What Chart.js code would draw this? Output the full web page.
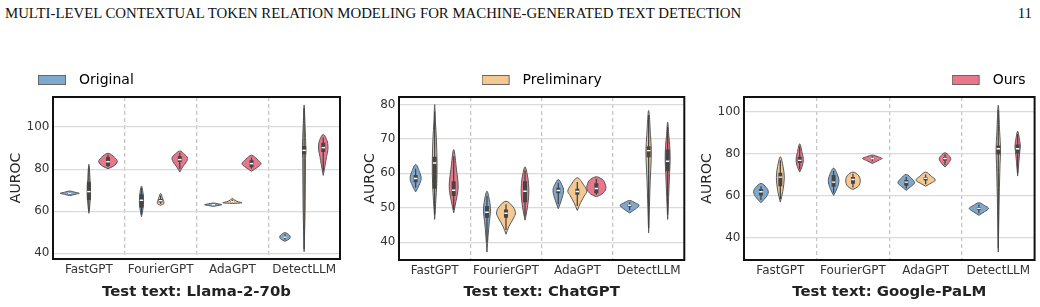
<!DOCTYPE html>
<html>
<head>
<meta charset="utf-8">
<script src="https://cdn.jsdelivr.net/npm/chart.js"></script>
<style>
  html, body { margin: 0; padding: 0; background: #fff; }
  body { width: 1040px; height: 307px; position: relative; overflow: hidden; }
  .header { position: absolute; top: 5px; left: 5px; font: 14.8px/16px 'Liberation Serif', serif; color: #111; white-space: nowrap; }
  .page { position: absolute; top: 5px; right: 8px; font: 14.8px/16px 'Liberation Serif', serif; color: #111; }
  canvas { position: absolute; top: 60px; }
</style>
</head>
<body>
<div class="header">MULTI-LEVEL CONTEXTUAL TOKEN RELATION MODELING FOR MACHINE-GENERATED TEXT DETECTION</div>
<div class="page">11</div>
<canvas id="c1" width="347" height="247" style="left:0px"></canvas>
<canvas id="c2" width="347" height="247" style="left:347px"></canvas>
<canvas id="c3" width="346" height="247" style="left:694px"></canvas>
<script>
Chart.defaults.font.family = "'DejaVu Sans', sans-serif";
Chart.defaults.color = '#333';

const categories = ['FastGPT', 'FourierGPT', 'AdaGPT', 'DetectLLM'];
const methods = ['Original', 'Preliminary', 'Ours'];
const testSets = ['Llama-2-70b', 'ChatGPT', 'Google-PaLM'];
const llamaTicks = [40, 60, 80, 100];
const chatTicks = [40, 50, 60, 70, 80];
const palmTicks = [40, 60, 80, 100];

// violin: shape = [AUROC, relative half width] bottom -> top, box = [lo, q1, median, q3, hi]
const llamaOriginal = [
  { shape: [[67.4, 0], [68.0, 0.55], [68.5, 1.0], [69.0, 0.55], [69.6, 0]], box: [67.9, 68.3, 68.5, 68.7, 69.1] },
  { shape: [[57.4, 0], [61, 0.15], [65, 0.22], [69, 0.15], [72, 0]], box: [58.5, 61.7, 65.2, 68, 71] },
  { shape: [[62.3, 0], [62.7, 0.5], [63.1, 0.9], [63.5, 0.5], [63.9, 0]], box: [62.7, 62.9, 63.1, 63.3, 63.5] },
  { shape: [[45.7, 0], [46.8, 0.45], [47.7, 0.55], [48.7, 0.45], [49.8, 0]], box: [46.5, 47.3, 47.7, 48.1, 49] },
];
const llamaPreliminary = [
  { shape: [[59, 0], [63, 0.1], [69, 0.17], [75, 0.12], [82.3, 0]], box: [60, 65.3, 69.3, 73.9, 81] },
  { shape: [[62.8, 0], [63.6, 0.34], [65, 0.3], [66.5, 0.18], [68.5, 0]], box: [63.5, 64.2, 65.0, 65.8, 67.5] },
  { shape: [[63.7, 0], [64.0, 1.0], [64.5, 0.6], [65.2, 0.25], [66.1, 0]], box: [64, 64.3, 64.5, 64.8, 65.5] },
  { shape: [[40.8, 0], [60, 0.1], [85, 0.15], [90, 0.18], [100, 0.1], [110.5, 0]], box: [42, 87, 88.9, 91, 109] },
];
const llamaOurs = [
  { shape: [[80.2, 0], [81.5, 0.6], [83.5, 0.97], [85.5, 0.7], [87.5, 0]], box: [81, 81.5, 83.5, 85.7, 86.8] },
  { shape: [[78.6, 0], [81, 0.3], [83.5, 0.7], [85.4, 0.81], [87, 0.5], [88.6, 0]], box: [80, 83.4, 84.5, 86.2, 87.8] },
  { shape: [[79.0, 0], [80.8, 0.6], [82.6, 1.0], [84.6, 0.6], [86.6, 0]], box: [80.2, 80.9, 82.6, 84.2, 85.5] },
  { shape: [[77.0, 0], [82, 0.2], [86, 0.35], [89, 0.48], [91, 0.49], [93.5, 0.4], [96.5, 0]], box: [79, 88.1, 90.2, 92.5, 95] },
];

const chatOriginal = [
  { shape: [[54.6, 0], [56.5, 0.35], [58.5, 0.58], [60.5, 0.4], [62.6, 0]], box: [55.8, 57.4, 58.5, 59.5, 61.3] },
  { shape: [[37.1, 0], [42, 0.12], [46, 0.25], [49, 0.37], [51.5, 0.3], [54.8, 0]], box: [40, 47.1, 48.7, 50.5, 53.5] },
  { shape: [[49.7, 0], [52, 0.3], [55, 0.56], [56.8, 0.35], [58.2, 0]], box: [51, 54.2, 55, 55.8, 57.3] },
  { shape: [[48.5, 0], [49.6, 0.6], [50.7, 1.0], [51.4, 0.6], [52.1, 0]], box: [49.3, 50.3, 50.7, 51, 51.6] },
];
const chatPreliminary = [
  { shape: [[46.6, 0], [52, 0.12], [57, 0.22], [63, 0.25], [70, 0.18], [75, 0.08], [80, 0]], box: [48, 55.5, 63.0, 64.8, 78] },
  { shape: [[42.3, 0], [44.5, 0.3], [47, 0.8], [48.5, 1.0], [50.2, 0.75], [51.9, 0]], box: [43.5, 47.1, 48.4, 49.5, 51] },
  { shape: [[49.2, 0], [51.5, 0.35], [53.5, 0.75], [54.8, 1.0], [56.5, 0.7], [58.7, 0]], box: [50.5, 53.8, 54.7, 55.5, 57.5] },
  { shape: [[42.7, 0], [50, 0.08], [58, 0.17], [64, 0.27], [67, 0.28], [71, 0.2], [78.3, 0]], box: [44, 64.7, 66.6, 67.9, 77] },
];
const chatOurs = [
  { shape: [[48.5, 0], [52, 0.25], [55, 0.45], [57.5, 0.45], [61, 0.3], [66.9, 0]], box: [49.5, 53.4, 55.1, 57.7, 65] },
  { shape: [[46.4, 0], [50, 0.25], [54, 0.4], [57, 0.37], [59.5, 0.25], [61.9, 0]], box: [47.5, 51.6, 54.8, 57.7, 60.8] },
  { shape: [[53.2, 0], [54, 0.6], [55.5, 1.0], [57.5, 0.85], [58.3, 0.6], [59, 0]], box: [53.8, 54.2, 55.6, 57.1, 58.4] },
  { shape: [[46.6, 0], [53, 0.1], [60, 0.2], [64, 0.26], [68, 0.22], [71, 0.12], [74.9, 0]], box: [48, 60.6, 63.5, 66.9, 73.5] },
];

const palmOriginal = [
  { shape: [[56.7, 0], [59.5, 0.55], [61.9, 0.76], [64, 0.55], [65.9, 0]], box: [58, 60.2, 61.9, 63.3, 64.5] },
  { shape: [[60.2, 0], [63.5, 0.35], [67, 0.55], [70, 0.4], [73.2, 0]], box: [61.5, 64.3, 66.5, 69.9, 72] },
  { shape: [[62.6, 0], [64.5, 0.5], [66.2, 0.86], [68, 0.6], [70.2, 0]], box: [63.5, 64.8, 66.5, 67.5, 69] },
  { shape: [[50.7, 0], [52.5, 0.6], [54, 1.0], [55.3, 0.6], [56.7, 0]], box: [51.7, 53.3, 54, 54.5, 55.8] },
];
const palmPreliminary = [
  { shape: [[57, 0], [62, 0.25], [68.6, 0.41], [74, 0.28], [78.6, 0]], box: [58.5, 64.6, 68.9, 71, 77] },
  { shape: [[63, 0], [64.5, 0.55], [67, 0.75], [69.5, 0.6], [71.3, 0]], box: [64, 65.7, 67.8, 69, 70.5] },
  { shape: [[64.6, 0], [66, 0.55], [67.5, 1.0], [69.3, 0.6], [71.3, 0]], box: [65.5, 67.3, 68.3, 68.8, 70.2] },
  { shape: [[33.2, 0], [60, 0.1], [75, 0.18], [82, 0.23], [90, 0.15], [103.2, 0]], box: [35, 79.7, 82.4, 84, 101] },
];
const palmOurs = [
  { shape: [[71.3, 0], [74, 0.25], [77.3, 0.38], [80.5, 0.25], [84.8, 0]], box: [72.5, 75.6, 76.9, 78.6, 83.5] },
  { shape: [[75.4, 0], [76.8, 0.6], [77.8, 1.0], [78.6, 0.6], [79.4, 0]], box: [76.5, 77.4, 77.8, 78.1, 78.8] },
  { shape: [[73.7, 0], [75.8, 0.4], [77.6, 0.6], [79.2, 0.4], [80.5, 0]], box: [74.8, 76.8, 77.8, 78.5, 79.8] },
  { shape: [[69.4, 0], [76, 0.12], [81, 0.22], [83.7, 0.28], [86.5, 0.2], [90.8, 0]], box: [71, 80.2, 82.4, 84.5, 89.5] },
];

const fills = ['#7fa8cf', '#f4c893', '#e8778c'];
const outline = '#585858';
const boxColor = '#454545';
const offsets = [-0.8 / 3, 0, 0.8 / 3];
const halfSlot = 0.4 / 3;

const panels = [
  { id: 'c1', series: [llamaOriginal, llamaPreliminary, llamaOurs], ticks: llamaTicks, min: 37.3, max: 114.25,
    yw: 53, xh: 48, padRight: 7, padTop: 3, legendPad: 10, align: 'start', fullSize: true, lead: 28, titlePad: 8.3 },
  { id: 'c2', series: [chatOriginal, chatPreliminary, chatOurs], ticks: chatTicks, min: 34.8, max: 82.2,
    yw: 52, xh: 47, padRight: 9.7, padTop: 3, legendPad: 10, align: 'center', fullSize: false, lead: 0, titlePad: 14.6 },
  { id: 'c3', series: [palmOriginal, palmPreliminary, palmOurs], ticks: palmTicks, min: 29.4, max: 107.1,
    yw: 50, xh: 47, padRight: 5, padTop: 4, legendPad: 9, align: 'end', fullSize: false, lead: 0, titlePad: 4.9 },
];

// legend patch, drawn after an optional empty lead so the text keeps its gap
function swatch(color, lead) {
  const c = document.createElement('canvas');
  c.width = lead + 34; c.height = 10;
  const g = c.getContext('2d');
  g.fillStyle = color;
  g.fillRect(lead, 0, 28, 10);
  g.strokeStyle = '#666';
  g.lineWidth = 1;
  g.strokeRect(lead + 0.5, 0.5, 27, 9);
  return c;
}

function violinSets(violins, m) {
  const sets = [];
  violins.forEach((v, i) => {
    const cx = i + offsets[m];
    const right = v.shape.map(([y, w]) => ({ x: cx + w * halfSlot, y }));
    const left = v.shape.slice(0, -1).reverse().map(([y, w]) => ({ x: cx - w * halfSlot, y }));
    sets.push({ data: right.concat(left), fill: 'shape', backgroundColor: fills[m], borderColor: outline,
      borderWidth: 1, tension: 0.35, pointRadius: 0, order: 3 });
    const [lo, q1, med, q3, hi] = v.box;
    sets.push({ data: [{ x: cx, y: lo }, { x: cx, y: hi }], borderColor: boxColor, borderWidth: 1.3, pointRadius: 0, order: 2 });
    sets.push({ data: [{ x: cx, y: q1 }, { x: cx, y: q3 }], borderColor: boxColor, borderWidth: 4,
      borderCapStyle: 'butt', pointRadius: 0, order: 1 });
    sets.push({ data: [{ x: cx, y: med }], showLine: false, pointStyle: 'line', pointRadius: 1.7,
      pointBorderColor: '#fff', pointBorderWidth: 1.4, borderColor: '#fff', order: 0 });
  });
  return sets;
}

const framePlugin = {
  id: 'frame',
  afterDraw(chart) {
    const { ctx, chartArea: a } = chart;
    ctx.save();
    ctx.strokeStyle = '#111';
    ctx.lineWidth = 2;
    ctx.strokeRect(a.left, a.top, a.right - a.left, a.bottom - a.top);
    ctx.restore();
  }
};

const xSpots = [];
categories.forEach((c, i) => { xSpots.push(i); if (i < categories.length - 1) xSpots.push(i + 0.5); });

panels.forEach((p, k) => {
  const datasets = [];
  p.series.forEach((s, m) => datasets.push(...violinSets(s, m)));
  new Chart(document.getElementById(p.id), {
    type: 'line',
    data: { datasets },
    plugins: [framePlugin],
    options: {
      responsive: false,
      animation: false,
      events: [],
      layout: { padding: { top: p.padTop, right: p.padRight, left: 0, bottom: 0 } },
      scales: {
        x: {
          type: 'linear', min: -0.5, max: 3.5,
          afterBuildTicks: s => { s.ticks = xSpots.map(v => ({ value: v })); },
          afterFit: s => { s.height = p.xh; },
          ticks: { autoSkip: false, maxRotation: 0, padding: 4, color: '#333', font: { size: 12 },
            callback: v => Number.isInteger(v) ? categories[v] : '' },
          grid: { drawTicks: false, lineWidth: 1.3,
            color: c => Number.isInteger(c.tick.value) ? 'rgba(0,0,0,0)' : '#c6c6c6' },
          border: { display: false, dash: [4, 3] },
          title: { display: true, text: 'Test text: ' + testSets[k], color: '#222',
            font: { size: 14.9, weight: 'bold' }, padding: { top: 0, bottom: 6.4 } }
        },
        y: {
          min: p.min, max: p.max,
          afterBuildTicks: s => { s.ticks = p.ticks.map(v => ({ value: v })); },
          afterFit: s => { s.width = p.yw; },
          ticks: { padding: 3.5, color: '#333', font: { size: 12 } },
          grid: { drawTicks: false, color: '#dadada', lineWidth: 1.2 },
          border: { display: false },
          title: { display: true, text: 'AUROC', color: '#262626', font: { size: 14 },
            padding: { top: p.titlePad, bottom: 0 } }
        }
      },
      plugins: {
        tooltip: { enabled: false },
        legend: {
          position: 'top', fullSize: p.fullSize, align: p.align,
          labels: {
            usePointStyle: true, pointStyleWidth: p.lead + 34, boxHeight: 10, padding: p.legendPad,
            color: '#262626', font: { size: 14 },
            generateLabels: () => [{ text: methods[k], pointStyle: swatch(fills[k], p.lead), fillStyle: fills[k],
              strokeStyle: '#666', lineWidth: 0, hidden: false, datasetIndex: 0 }]
          }
        }
      }
    }
  });
});
</script>
</body>
</html>
